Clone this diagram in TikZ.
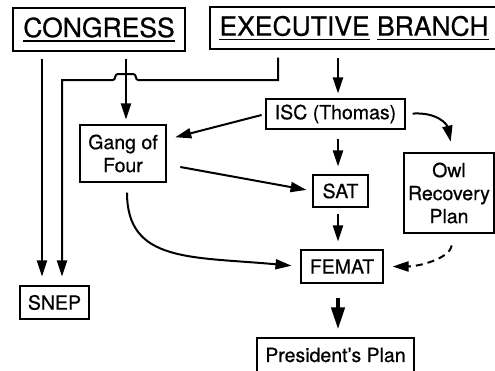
\documentclass[tikz,border=0pt]{standalone}
\usepackage{fontspec}
\setmainfont{TeX Gyre Heros}[FakeBold=0.6]
\usetikzlibrary{arrows.meta}
\newcommand\headul[1]{\setbox0\hbox{#1}\rlap{\rule[-4.5pt]{\wd0}{1.6pt}}\box0\relax}

\begin{document}
\begin{tikzpicture}[x=1pt, y=-1pt,
  box/.style={draw, line width=1.1pt, inner sep=0pt, align=center,
              font=\fontsize{19.5}{23}\selectfont},
  head/.style={draw, line width=1.1pt, inner sep=0pt,
               font=\fontsize{26.5}{30}\selectfont},
  arr/.style={-{Triangle[length=16pt,width=10pt]}, line width=2pt,
              shorten <=7pt, shorten >=5pt},
  bigarr/.style={-{Triangle[length=22pt,width=13pt]}, line width=4pt,
                 shorten <=14pt, shorten >=8pt}
]
  \clip (0,0) rectangle (495,370);

  % headings
  \node[head, minimum width=172, minimum height=43] (cong) at (99,29.5) {\headul{CONGRESS}};
  \node[head, minimum width=288, minimum height=42] (exec) at (354,28) {\headul{EXECUTIVE}\ \headul{BRANCH}};

  \node[box, minimum width=139, minimum height=30] (isc)   at (335.5,114)  {ISC (Thomas)};
  \node[box, minimum width=86,  minimum height=57] (gang)  at (123,153.5)  {Gang of\\Four};
  \node[box, minimum width=55,  minimum height=32] (sat)   at (340.5,191)  {SAT};
  \node[box, minimum width=90,  minimum height=80] (owl)   at (449,193)    {Owl\\Recovery\\Plan};
  \node[box, minimum width=82,  minimum height=33] (femat) at (342,266.5)  {FEMAT};
  \node[box, minimum width=69,  minimum height=33] (snep)  at (54.5,302.5) {SNEP};
  \node[box, minimum width=157, minimum height=34] (pres)  at (335.5,355)  {President's Plan};

  \coordinate (col) at (338,0);

  % congress
  \draw[arr, shorten >=9pt] ([xshift=-57]cong.south) -- ([xshift=-12.5]snep.north);
  \draw[arr] ([xshift=27]cong.south) -- ([xshift=3]gang.north);

  % executive line with hop
  \draw[arr, shorten <=8pt, shorten >=9pt] ([xshift=-76]exec.south) |- (138,80)
    .. controls (135,80) and (137,74) .. (133,74) -- (118,74)
    .. controls (114,74) and (116,80) .. (113,80) -- (62,80)
    -- ([xshift=7.5]snep.north);

  \draw[arr, shorten <=8pt, shorten >=5pt] (exec.south -| col) -- (isc.north -| col);
  \draw[arr, shorten <=9pt, shorten >=8pt] (isc.south -| col) -- (sat.north -| col);
  \draw[arr, shorten <=6pt, shorten >=8pt] (sat.south -| col) -- (femat.north -| col);
  \draw[bigarr] (femat.south -| col) -- (pres.north -| col);

  \draw[arr, shorten <=4pt, shorten >=9pt] (isc.west) -- ([yshift=14]gang.east);
  \draw[arr, shorten <=14pt, shorten >=6pt] ([yshift=-11]gang.east) -- (sat.west);
  \draw[arr, shorten <=10pt, shorten >=9pt] ([xshift=4]gang.south)
    .. controls +(0,80) and +(-110,-10) .. (femat.west);
  \draw[arr, shorten <=7pt, shorten >=11pt] (isc.east)
    .. controls +(32,-2) and +(-6,-28) .. ([xshift=4]owl.north);
  \draw[arr, dash pattern=on 7pt off 5pt, shorten <=12pt, shorten >=9pt] ([xshift=4]owl.south)
    .. controls +(-3,25) and +(35,0) .. (femat.east);
\end{tikzpicture}
\end{document}
